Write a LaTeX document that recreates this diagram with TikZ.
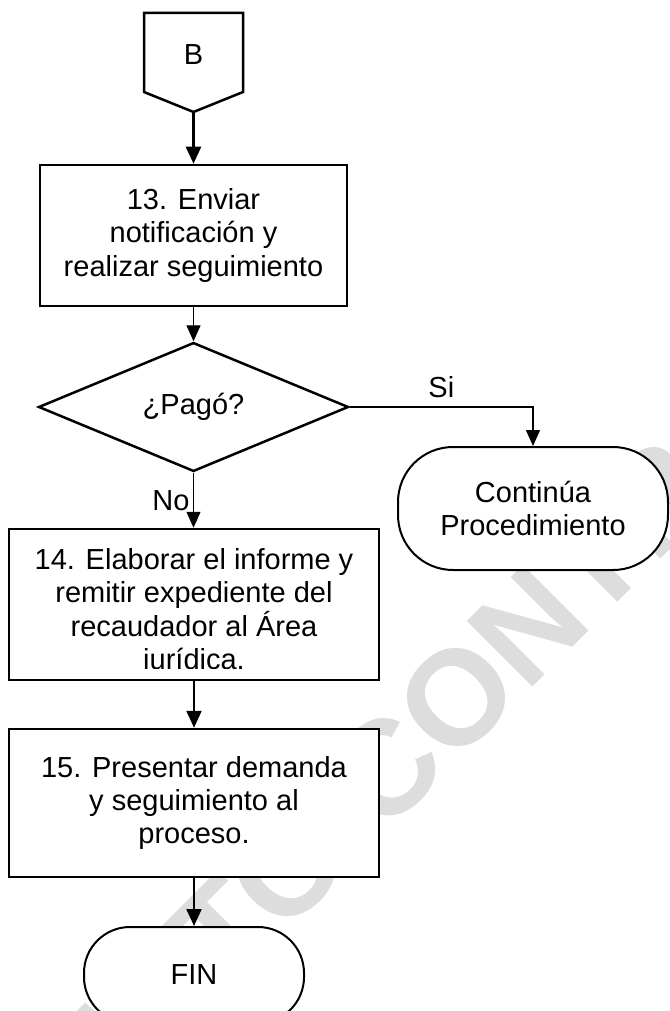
\documentclass[tikz,border=0pt]{standalone}
\usepackage{fontspec}
\setmainfont{Liberation Sans}
\usetikzlibrary{shapes.geometric,arrows.meta}
\definecolor{wmgray}{RGB}{221,221,221}
\begin{document}
\begin{tikzpicture}[x=1pt,y=-1pt,
    font=\fontsize{29}{33.3}\selectfont,
    proc/.style={draw,line width=2.5pt,fill=white,align=center,inner sep=0pt},
    term/.style={draw,line width=2pt,fill=white,align=center,inner sep=0pt},
    dec/.style={draw,diamond,line width=2.5pt,fill=white,inner sep=0pt},
    flow/.style={line width=2.3pt,-{Triangle[width=15pt,length=17pt]}},
    branch/.style={line width=1.4pt,-{Triangle[width=14pt,length=16pt]}}]
  \useasboundingbox (0,0) rectangle (669,1011);
  \clip (0,0) rectangle (669,1011);
  \node[text=wmgray,font=\bfseries\fontsize{135}{135}\selectfont,rotate=45,
        anchor=base west,inner sep=0pt] (wm) at (-267,1487) {DOCUMENTO CONTROLADO};
  \draw[line width=2.5pt,fill=white] (144,13) -- (243,13) -- (243,92)
    -- (193.5,112) -- (144,92) -- cycle;
  \node (B) at (193.5,55) {B};
  \coordinate (Btip) at (193.5,112);
  \node[proc,minimum width=307pt,minimum height=141pt] (p13) at (193.5,235.5)
    {13. Enviar\\notificación y\\realizar seguimiento};
  \node[dec,minimum width=310pt,minimum height=120pt] (d1) at (193.5,407) {¿Pagó?};
  \node[term,rounded corners=55pt,minimum width=270pt,minimum height=123pt] (cont)
    at (533,508.5) {Continúa\\Procedimiento};
  \node[proc,minimum width=370pt,minimum height=151pt] (p14) at (194,604.5) {};
  \begin{scope}
    \clip (9,529) rectangle (379,668.5);
    \node[align=center] (t14) at (194,612)
      {14. Elaborar el informe y\\remitir expediente del\\recaudador al Área\\jurídica.};
  \end{scope}
  \node[proc,minimum width=370pt,minimum height=148pt] (p15) at (194,803)
    {15. Presentar demanda\\y seguimiento al\\proceso.};
  \node[term,rounded corners=46pt,minimum width=220pt,minimum height=96pt] (fin)
    at (194,975) {FIN};
  \draw[flow] (Btip) -- (Btip |- p13.north);
  \draw[branch] (p13.south) -- (p13.south |- d1.north);
  \draw[branch] (d1.east) -| node[pos=0.25,above=5pt] (si) {Si} (cont.north);
  \draw[branch] (d1.south) -- node[left] (no) {No} (d1.south |- p14.north);
  \draw[flow] (p14.south) -- (p15.north);
  \draw[flow] (p15.south) -- (fin.north);
\end{tikzpicture}
\end{document}
